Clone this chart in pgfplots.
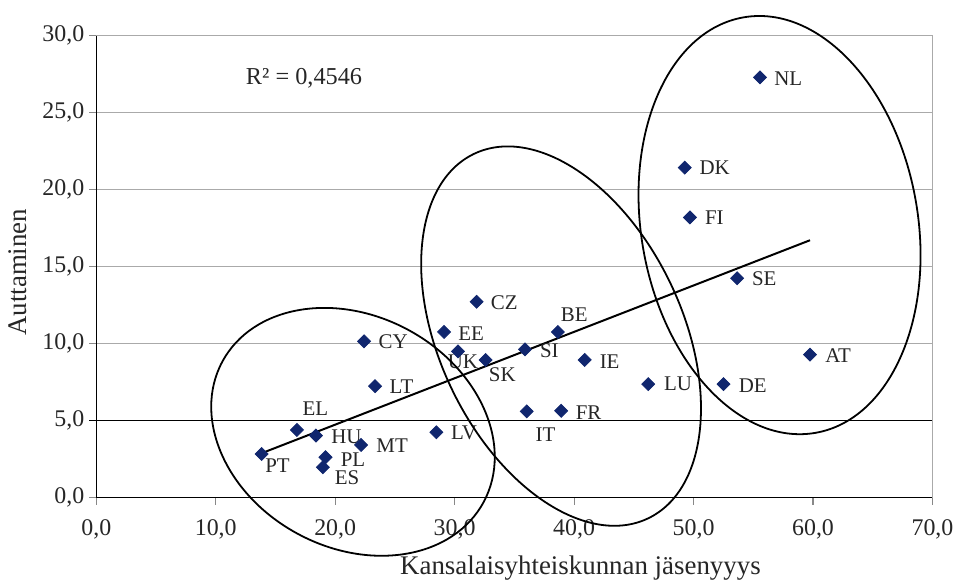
\documentclass[border=0pt]{standalone}
\usepackage{pgfplots}
\pgfplotsset{compat=1.18}
\usepackage{pgfplotstable}
\usepackage{fontspec}
\setmainfont{Liberation Serif}
\definecolor{navy}{RGB}{16,38,110}
\definecolor{gridgray}{RGB}{170,170,170}
\newcommand\tickfont{\fontsize{12}{14}\selectfont}
\newcommand\titlefont{\fontsize{13.5}{16}\selectfont}
\newcommand\lblfont{\fontsize{10.5}{12}\selectfont}
\newcommand\rfont{\fontsize{12.2}{14}\selectfont}
% label helper: x, y, text, anchor, dx(px), dy(px, down positive)
\newcommand\lbl[6]{\node[font=\lblfont, inner sep=0pt, anchor=#4, xshift=#5*0.5pt, yshift=-#6*0.5pt, text=black!85] at (axis cs:#1,#2) {#3};}
\pgfplotstableread{
x y
13.84 2.83
16.80 4.39
18.39 4.03
18.97 1.97
19.19 2.62
22.17 3.42
22.42 10.15
23.34 7.24
28.47 4.24
29.11 10.76
30.28 9.50
31.84 12.72
32.59 8.94
35.89 9.63
36.03 5.60
38.64 10.76
38.92 5.64
40.89 8.94
46.20 7.37
49.26 21.44
49.70 18.20
52.51 7.37
53.64 14.25
55.56 27.30
59.75 9.29
}\pts
\begin{document}
\begin{tikzpicture}
\begin{axis}[
  scale only axis, width=420pt, height=231.9pt,
  xmin=0, xmax=70, ymin=0, ymax=30,
  xtick={0,10,...,70}, ytick={0,5,...,30},
  tick pos=left, tick align=outside,
  major tick length=3.5pt,
  major tick style={gridgray!80!black, line width=0.6pt},
  ymajorgrids, major grid style={gridgray, line width=0.6pt},
  extra y ticks={5}, extra y tick labels={},
  extra y tick style={major grid style={black, line width=0.6pt}, major tick style={black, line width=0.6pt}},
  axis line style={draw=gridgray, line width=0.6pt},
  clip=false,
  xticklabel style={font=\tickfont, text=black!85, yshift=-4pt},
  yticklabel style={font=\tickfont, text=black!85, xshift=1pt},
  /pgf/number format/fixed, /pgf/number format/fixed zerofill,
  /pgf/number format/precision=1, /pgf/number format/use comma,
  /pgf/number format/assume math mode=true,
  xlabel={Kansalaisyhteiskunnan jäsenyyys},
  ylabel={Auttaminen},
  xlabel style={font=\titlefont, text=black!85, at={(axis description cs:0.579,-0.1664)}, anchor=base, inner sep=0pt},
  ylabel style={font=\titlefont, text=black!85, at={(axis description cs:-0.0833,0.488)}, anchor=base, inner sep=0pt, rotate=0},
]
\addplot[black, line width=1pt] coordinates {(13.84,2.88) (59.75,16.72)};
\addplot[only marks, mark=square*, mark size=2.3pt, color=navy, mark options={rotate=45, fill=navy, draw=navy}] table[x=x, y=y] {\pts};
\draw[black, line width=0.6pt] (axis cs:0,30) -- (axis cs:0,0) -- (axis cs:70,0);
\node[font=\rfont, anchor=west, inner sep=0pt, text=black!85] at (axis cs:12.5,27.26) {R² = 0,4546};
\lbl{55.56}{27.30}{NL}{west}{14}{1.3}
\lbl{49.26}{21.44}{DK}{west}{14.6}{0.4}
\lbl{49.70}{18.20}{FI}{west}{14.7}{0.4}
\lbl{53.64}{14.25}{SE}{west}{14.7}{0.7}
\lbl{59.75}{9.29}{AT}{west}{15}{1}
\lbl{52.51}{7.37}{DE}{west}{15}{1.3}
\lbl{46.20}{7.37}{LU}{west}{15.7}{0}
\lbl{40.89}{8.94}{IE}{west}{14.7}{1.5}
\lbl{38.92}{5.64}{FR}{west}{14.3}{1.7}
\lbl{35.89}{9.63}{SI}{west}{14.7}{1.8}
\lbl{31.84}{12.72}{CZ}{west}{14}{0.5}
\lbl{29.11}{10.76}{EE}{west}{14}{1.7}
\lbl{22.42}{10.15}{CY}{west}{14.3}{0.3}
\lbl{23.34}{7.24}{LT}{west}{14.3}{0.8}
\lbl{28.47}{4.24}{LV}{west}{14.4}{0.5}
\lbl{22.17}{3.42}{MT}{west}{15}{0.3}
\lbl{18.39}{4.03}{HU}{west}{15}{1.7}
\lbl{19.19}{2.62}{PL}{west}{15}{2}
\lbl{13.84}{2.83}{PT}{west}{3.3}{11.8}
\lbl{18.97}{1.97}{ES}{west}{11.7}{10}
\lbl{32.59}{8.94}{SK}{west}{3}{14.7}
\lbl{30.28}{9.50}{UK}{center}{5}{10}
\lbl{38.64}{10.76}{BE}{center}{16.4}{-17.5}
\lbl{36.03}{5.60}{IT}{center}{19}{23.7}
\lbl{16.80}{4.39}{EL}{center}{18.4}{-21.7}
\coordinate (bbl) at (axis cs:-8.06,-5.40);
\coordinate (btr) at (axis cs:71.95,32.33);
\coordinate (e1) at (axis cs:21.49,4.27);
\coordinate (e2) at (axis cs:38.91,10.49);
\coordinate (e3) at (axis cs:57.20,17.70);
\end{axis}
\useasboundingbox (bbl) rectangle (btr);
\draw[line width=0.9pt, rotate around={-28.2:(e1)}] (e1) ellipse [x radius=74.5pt, y radius=58.25pt];
\draw[line width=0.9pt, rotate around={-64.5:(e2)}] (e2) ellipse [x radius=101.45pt, y radius=61pt];
\draw[line width=0.9pt, rotate around={-80.2:(e3)}] (e3) ellipse [x radius=105.9pt, y radius=69.5pt];
\end{tikzpicture}
\end{document}
